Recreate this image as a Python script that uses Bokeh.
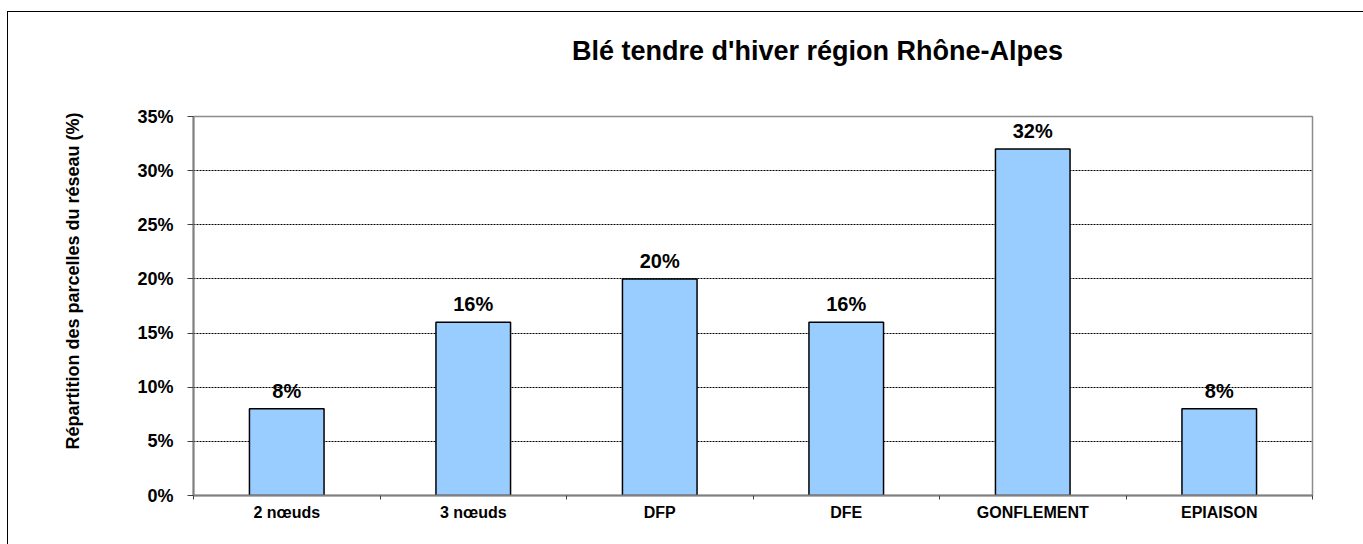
from bokeh.plotting import figure
from bokeh.models import (ColumnDataSource, FixedTicker, NumeralTickFormatter,
                          Range1d, Div)
from bokeh.layouts import column
from bokeh.core.properties import value
from bokeh.embed import file_html
from bokeh.resources import INLINE

# ---- data ----
categories = ["2 nœuds", "3 nœuds", "DFP", "DFE", "GONFLEMENT", "EPIAISON"]
shares = [0.08, 0.16, 0.20, 0.16, 0.32, 0.08]
share_labels = ["8%", "16%", "20%", "16%", "32%", "8%"]
y_ticks = [0, 0.05, 0.10, 0.15, 0.20, 0.25, 0.30, 0.35]
grid_ticks = [0.05, 0.10, 0.15, 0.20, 0.25, 0.30]
title_text = "Blé tendre d'hiver région Rhône-Alpes"
y_label = "Répartition des parcelles du réseau (%)"

FONT = "Liberation Sans"

n = len(categories)
centers = [i + 0.5 for i in range(n)]
bounds = list(range(n + 1))

src = ColumnDataSource(dict(x=centers, top=shares, lab=share_labels))

TITLE_H = 60
title_div = Div(text=title_text, width=1356, height=TITLE_H, margin=0,
                styles={"font-family": FONT, "font-weight": "bold",
                        "font-size": "27px", "line-height": "27px",
                        "color": "black", "padding-top": "26px",
                        "padding-left": "564px", "box-sizing": "border-box",
                        "border-top": "1px solid black",
                        "border-left": "1px solid black",
                        "white-space": "nowrap"})

p = figure(width=1356, height=533 - TITLE_H, output_backend="svg",
           toolbar_location=None, margin=0,
           x_range=Range1d(0, n), y_range=Range1d(0, 0.35),
           min_border_left=185, min_border_top=105 - TITLE_H,
           min_border_right=52, min_border_bottom=49)
p.styles = {"border-left": "1px solid black"}

p.background_fill_color = "white"
p.border_fill_color = "white"
p.outline_line_color = "#8c8c8c"
p.outline_line_width = 1.5

# bars
p.vbar(x="x", top="top", width=0.4, bottom=0, source=src,
       fill_color="#99CCFF", line_color="black", line_width=1.5)

# value labels
p.text(x="x", y="top", text="lab", source=src, text_align="center",
       text_baseline="alphabetic", y_offset=-18,
       text_font=value(FONT), text_font_style="bold", text_font_size="20px",
       text_color="black")

# grid
p.xgrid.visible = False
p.ygrid.ticker = FixedTicker(ticks=grid_ticks)
p.ygrid.grid_line_color = "black"
p.ygrid.grid_line_dash = "2 1"
p.ygrid.grid_line_width = 1

# y axis
p.yaxis.ticker = FixedTicker(ticks=y_ticks)
p.yaxis.formatter = NumeralTickFormatter(format="0%")
p.yaxis.axis_line_color = "#808080"
p.yaxis.axis_line_width = 2
p.yaxis.major_tick_line_color = "#404040"
p.yaxis.major_tick_out = 6
p.yaxis.major_tick_in = 0
p.yaxis.minor_tick_line_color = None
p.yaxis.major_label_text_font = FONT
p.yaxis.major_label_text_font_style = "bold"
p.yaxis.major_label_text_font_size = "18px"
p.yaxis.major_label_text_color = "black"
p.yaxis.major_label_standoff = 14
# leading no-break spaces shift the centred label upward, as in the reference
p.yaxis.axis_label = "\u00a0" * 10 + y_label
p.yaxis.axis_label_text_font = FONT
p.yaxis.axis_label_text_font_style = "bold"
p.yaxis.axis_label_text_font_size = "18px"
p.yaxis.axis_label_text_color = "black"
p.yaxis.axis_label_standoff = 51

# x axis
p.xaxis.ticker = FixedTicker(ticks=centers, minor_ticks=bounds)
p.xaxis.major_label_overrides = {c: lab for c, lab in zip(centers, categories)}
p.xaxis.axis_line_color = "#808080"
p.xaxis.axis_line_width = 2
p.xaxis.major_tick_line_color = None
p.xaxis.major_tick_out = 0
p.xaxis.major_tick_in = 0
p.xaxis.minor_tick_line_color = "#404040"
p.xaxis.minor_tick_out = 4
p.xaxis.minor_tick_in = 0
p.xaxis.major_label_text_font = FONT
p.xaxis.major_label_text_font_style = "bold"
p.xaxis.major_label_text_font_size = "16px"
p.xaxis.major_label_text_color = "black"
p.xaxis.major_label_standoff = 4

layout = column(title_div, p, spacing=0, margin=(11, 0, 0, 7))

open("out.html", "w").write(file_html(layout, INLINE))
